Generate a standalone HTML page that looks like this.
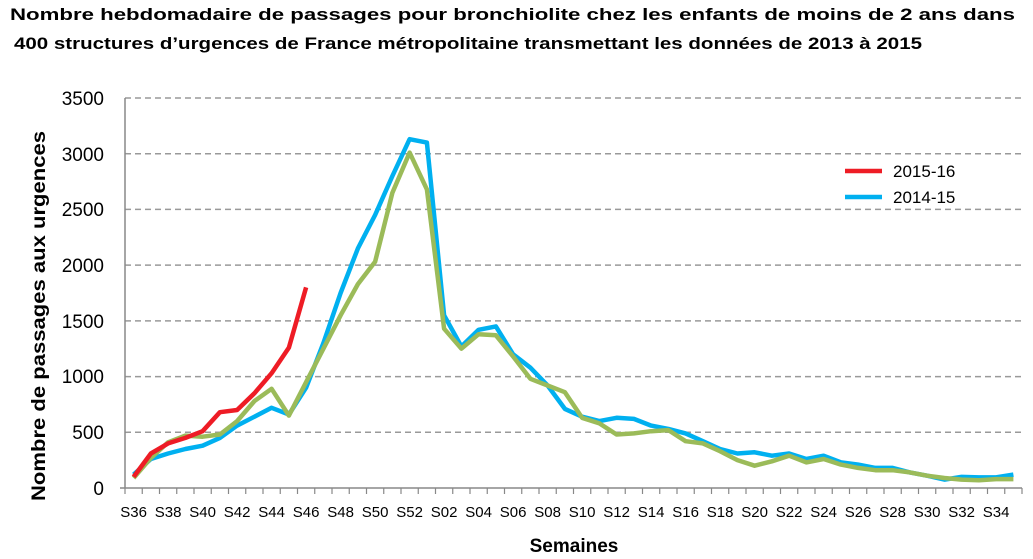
<!DOCTYPE html>
<html><head><meta charset="utf-8"><style>body{margin:0;background:#fff}svg{display:block}</style></head><body>
<svg width="1033" height="559" xmlns="http://www.w3.org/2000/svg" font-family="Liberation Sans, sans-serif">
<text x="10" y="20" font-size="17" font-weight="bold" fill="#000" textLength="1005" lengthAdjust="spacingAndGlyphs">Nombre hebdomadaire de passages pour bronchiolite chez les enfants de moins de 2 ans dans</text>
<text x="14" y="49" font-size="17" font-weight="bold" fill="#000" textLength="908" lengthAdjust="spacingAndGlyphs">400 structures d’urgences de France métropolitaine transmettant les données de 2013 à 2015</text>
<g stroke="#999" stroke-width="1.5" stroke-dasharray="6,4">
<line x1="125" x2="1022" y1="432.3" y2="432.3"/><line x1="125" x2="1022" y1="376.6" y2="376.6"/><line x1="125" x2="1022" y1="320.9" y2="320.9"/><line x1="125" x2="1022" y1="265.1" y2="265.1"/><line x1="125" x2="1022" y1="209.4" y2="209.4"/><line x1="125" x2="1022" y1="153.7" y2="153.7"/><line x1="125" x2="1022" y1="98" y2="98"/>
</g>
<g stroke="#888" stroke-width="1.5"><line x1="125" y1="98" x2="125" y2="488"/><line x1="120" y1="488" x2="1022" y2="488"/></g>
<g id="ticks" stroke="#888" stroke-width="1.2"></g>
<g font-size="19" text-anchor="end" fill="#000">
<text x="104" y="495">0</text><text x="104" y="439">500</text><text x="104" y="383">1000</text><text x="104" y="328">1500</text><text x="104" y="272">2000</text><text x="104" y="216">2500</text><text x="104" y="161">3000</text><text x="104" y="105">3500</text>
</g>
<g id="xl" font-size="15" text-anchor="middle" fill="#000"></g>
<text x="574" y="552" font-size="19" font-weight="bold" text-anchor="middle">Semaines</text>
<text transform="translate(45,316) rotate(-90)" font-size="19" font-weight="bold" text-anchor="middle" textLength="370" lengthAdjust="spacingAndGlyphs">Nombre de passages aux urgences</text>
<g id="lines" fill="none" stroke-width="4.5" stroke-linejoin="round"></g>
<line x1="845" y1="171" x2="882" y2="171" stroke="#ee1c25" stroke-width="4.5"/>
<text x="893" y="177" font-size="17">2015-16</text>
<line x1="845" y1="197" x2="882" y2="197" stroke="#00b0f0" stroke-width="4.5"/>
<text x="893" y="203" font-size="17">2014-15</text>
</svg>
<script>
var ns="http://www.w3.org/2000/svg",w=17.25;
function X(i){return 125+w*(i+0.5)}function Y(v){return 488-v*390/3500}
var t=document.getElementById('ticks');
for(var i=0;i<=52;i++){var l=document.createElementNS(ns,'line');var x=125+w*i;l.setAttribute('x1',x);l.setAttribute('x2',x);l.setAttribute('y1',488);l.setAttribute('y2',494);t.appendChild(l);}
var labs=[];for(var k=36;k<=52;k++)labs.push('S'+k);for(k=1;k<=35;k++)labs.push('S'+(k<10?'0'+k:k));
var xl=document.getElementById('xl');
for(i=0;i<52;i+=2){var s=document.createElementNS(ns,'text');s.setAttribute('x',X(i));s.setAttribute('y',517);s.textContent=labs[i];xl.appendChild(s);}
var blue=[120,260,310,350,380,450,560,640,720,660,900,1300,1750,2150,2450,2800,3130,3100,1550,1270,1420,1450,1200,1080,920,710,640,600,630,620,560,530,490,420,350,310,320,290,310,260,290,230,210,180,180,140,110,75,100,95,95,120];
var green=[90,270,410,470,460,480,600,780,890,650,950,1250,1550,1830,2030,2650,3010,2680,1430,1250,1380,1370,1180,980,920,860,630,580,480,490,510,520,420,400,330,250,200,240,290,230,260,210,180,160,160,140,110,90,75,70,80,80];
var red=[100,310,400,450,510,680,700,850,1030,1260,1800];
var g=document.getElementById('lines');
[[blue,'#00b0f0'],[green,'#9bbb59'],[red,'#ee1c25']].forEach(function(p){var d=p[0].map(function(v,i){return X(i).toFixed(1)+','+Y(v).toFixed(1)}).join(' ');var e=document.createElementNS(ns,'polyline');e.setAttribute('points',d);e.setAttribute('stroke',p[1]);g.appendChild(e);});
</script>
</body></html>
